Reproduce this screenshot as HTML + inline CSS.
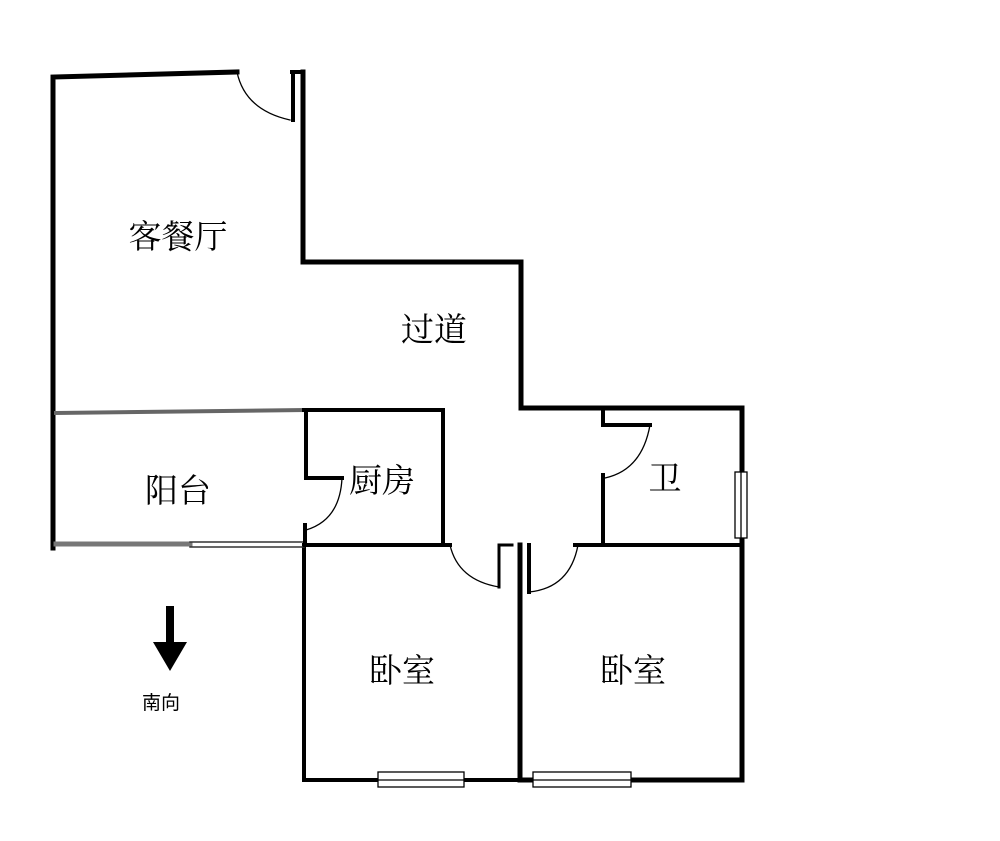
<!DOCTYPE html>
<html><head><meta charset="utf-8"><style>
html,body{margin:0;padding:0;background:#fff;width:1000px;height:841px;overflow:hidden}
svg{display:block}
text{font-family:"Noto Serif CJK SC","Liberation Serif",serif;fill:#000}
</style></head><body>
<svg width="1000" height="841" viewBox="0 0 1000 841">
<g stroke="#000" fill="none" stroke-linecap="square">
<path d="M237 72 L53 77 L53 548" stroke-width="5"/>
<path d="M303 72 L303 262 L521 262 L521 408 L742 408 L742 780 L520 780" stroke-width="5"/>
<path d="M520 780 L304 780 L304 545" stroke-width="4"/>
<path d="M292 72 L303 72 M293 72 L293 120" stroke-width="4"/>
<path d="M56 413 L304 410" stroke="#666" stroke-width="4"/>
<path d="M56 544 L190 544" stroke="#777" stroke-width="5"/>
<path d="M190 542 L304 542 M190 547 L304 547" stroke="#333" stroke-width="1.5"/>
<path d="M304 410 L443 410 L443 545 M306 410 L306 478 L342 478" stroke-width="4"/>
<path d="M305 525 L305 545 L450 545" stroke-width="4"/>
<path d="M499 545 L499 587 M499 545 L512 545" stroke-width="3"/>
<path d="M520 545 L520 780" stroke-width="5"/>
<path d="M529 545 L529 592 M575 545 L742 545" stroke-width="4"/>
<path d="M603 408 L603 425 L650 425 M603 475 L603 545" stroke-width="4"/>
<g stroke-width="1.3">
<path d="M237 72 Q245 110 290 120"/>
<path d="M342 478 Q340 520 306 530"/>
<path d="M450 545 Q458 580 499 587"/>
<path d="M529 592 Q570 588 578 545"/>
<path d="M650 425 Q642 470 605 478"/>
</g>
<g stroke-width="1.3" fill="#fff">
<rect x="735" y="472" width="12" height="66"/><line x1="741" y1="472" x2="741" y2="538"/>
<rect x="378" y="772" width="86" height="15"/><line x1="378" y1="780" x2="464" y2="780"/>
<rect x="533" y="772" width="98" height="15"/><line x1="533" y1="780" x2="631" y2="780"/>
</g>
</g>
<rect x="166" y="606" width="8" height="38" fill="#000"/>
<polygon points="153,642 187,642 170,671" fill="#000"/>
<g font-size="33" text-anchor="middle">
<text x="178" y="248">客餐厅</text>
<text x="434" y="341">过道</text>
<text x="178" y="502">阳台</text>
<text x="382" y="492">厨房</text>
<text x="665" y="490">卫</text>
<text x="402" y="682">卧室</text>
<text x="633" y="682">卧室</text>
</g>
<text x="161" y="709" font-size="19" text-anchor="middle" style="font-family:'Liberation Sans','Noto Sans CJK SC',sans-serif">南向</text>
</svg>
</body></html>
